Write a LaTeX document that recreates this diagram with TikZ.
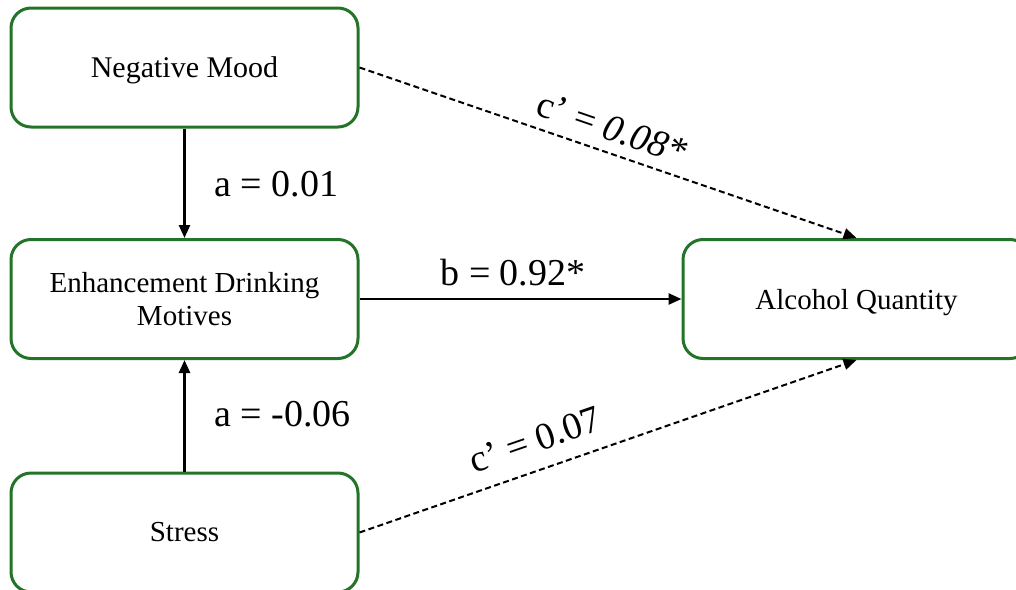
\documentclass[tikz,border=0pt]{standalone}
\usepackage{fontspec}
\setmainfont{Liberation Serif}
\usetikzlibrary{arrows.meta}
\definecolor{boxgreen}{RGB}{35,115,40}
\tikzset{
  box/.style={draw=boxgreen, line width=3pt, rounded corners=20pt, fill=white,
    minimum width=347pt, minimum height=119pt, inner sep=0pt, align=center,
    font=\fontsize{29}{33}\selectfont},
  solidarrow/.style={line width=2.5pt, -{Triangle[length=13pt,width=11pt]}},
  dasharrow/.style={line width=2pt, dash pattern=on 6pt off 3.5pt, -{Triangle[length=13pt,width=11pt]}},
  lbl/.style={font=\fontsize{38}{40}\selectfont, inner sep=0pt}
}
\begin{document}
\begin{tikzpicture}[x=1pt,y=-1pt]
\useasboundingbox (0,0) rectangle (1016,589);
\clip (0,0) rectangle (1016,589);
\node[box, font=\fontsize{30}{33}\selectfont, text depth=0pt] (nm) at (184.5,67.5) {Negative Mood};
\node[box] (enh) at (184.5,299) {Enhancement Drinking\\Motives};
\node[box] (st) at (184.5,532.5) {Stress};
\node[box, text depth=0pt] (alc) at (856.5,299) {Alcohol Quantity};
\draw[solidarrow] (nm) -- (enh);
\draw[solidarrow] (st) -- (enh);
\draw[solidarrow] (enh) -- (alc);
\draw[dasharrow] (nm.east) -- (alc.north);
\draw[dasharrow] (st.east) -- (alc.south);
\node[lbl, anchor=west] (la1) at (214,184) {a = 0.01};
\node[lbl, anchor=west] (la2) at (214,414) {a = -0.06};
\node[lbl] (lb) at (513,273) {b = 0.92*};
\node[lbl, rotate=-19] (lc1) at (612,128) {c’ = \textit{0.08*}};
\node[lbl, rotate=19] (lc2) at (535,440) {c’ = 0.07};
\end{tikzpicture}
\end{document}
